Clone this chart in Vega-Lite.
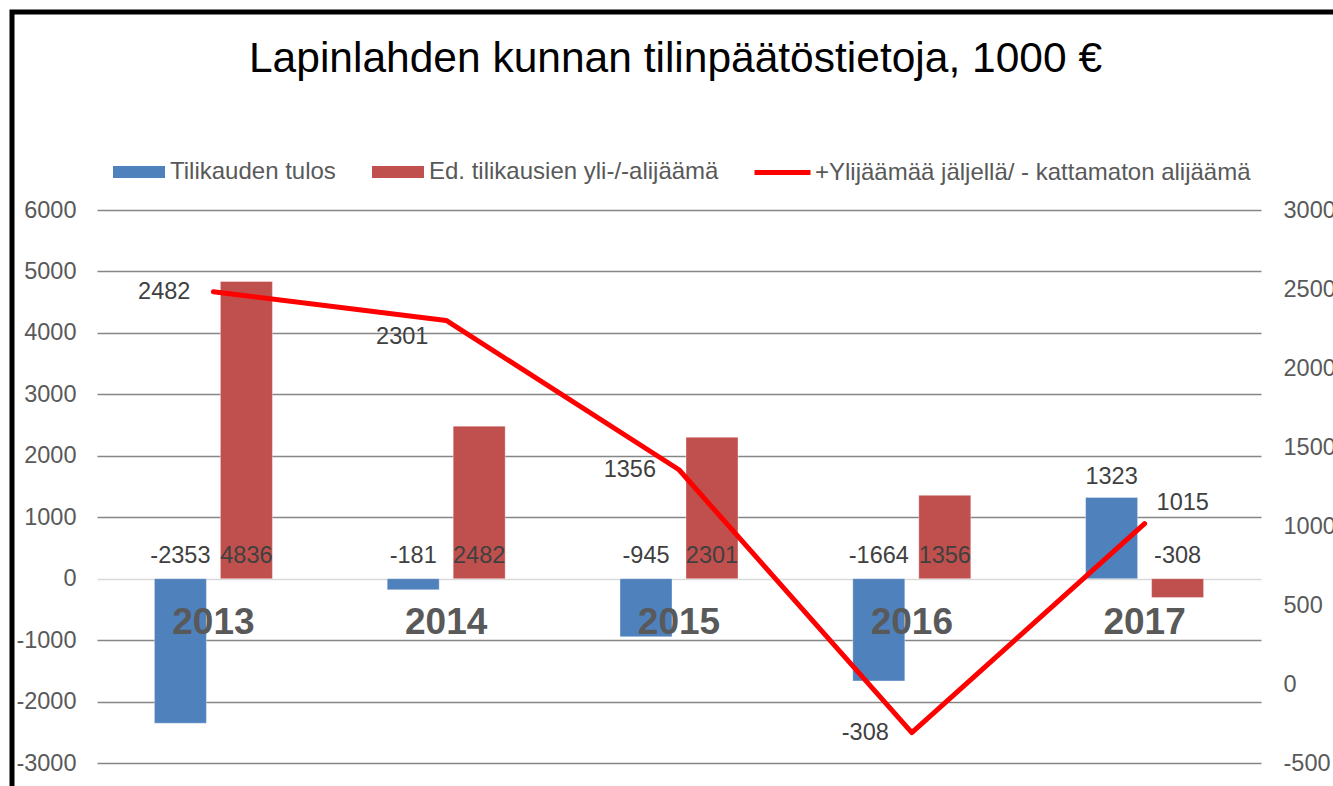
{
  "$schema": "https://vega.github.io/schema/vega-lite/v6.json",
  "width": 1321,
  "height": 774,
  "autosize": {"type": "none"},
  "padding": {"left": 12, "top": 12, "right": 0, "bottom": 0},
  "background": "white",
  "title": {
    "text": "Lapinlahden kunnan tilinpäätöstietoja, 1000 €",
    "font": "Liberation Sans",
    "fontSize": 42.5,
    "fontWeight": "normal",
    "color": "#000000",
    "anchor": "middle",
    "frame": "group",
    "offset": -102,
    "baseline": "alphabetic",
    "dx": 3
  },
  "config": {
    "font": "Liberation Sans",
    "view": {"stroke": "#000000", "strokeWidth": 5, "strokeDash": [1321, 2095, 774, 0], "strokeCap": "square", "fill": "white"}
  },
  "datasets": {
    "bars": [
      {"vuosi": "2013", "sarja": "Tilikauden tulos", "arvo": -2353},
      {"vuosi": "2013", "sarja": "Ed. tilikausien yli-/-alijäämä", "arvo": 4836},
      {"vuosi": "2014", "sarja": "Tilikauden tulos", "arvo": -181},
      {"vuosi": "2014", "sarja": "Ed. tilikausien yli-/-alijäämä", "arvo": 2482},
      {"vuosi": "2015", "sarja": "Tilikauden tulos", "arvo": -945},
      {"vuosi": "2015", "sarja": "Ed. tilikausien yli-/-alijäämä", "arvo": 2301},
      {"vuosi": "2016", "sarja": "Tilikauden tulos", "arvo": -1664},
      {"vuosi": "2016", "sarja": "Ed. tilikausien yli-/-alijäämä", "arvo": 1356},
      {"vuosi": "2017", "sarja": "Tilikauden tulos", "arvo": 1323},
      {"vuosi": "2017", "sarja": "Ed. tilikausien yli-/-alijäämä", "arvo": -308}
    ],
    "line": [
      {"vuosi": "2013", "sarja": "+Ylijäämää jäljellä/ - kattamaton alijäämä", "arvo": 2482},
      {"vuosi": "2014", "sarja": "+Ylijäämää jäljellä/ - kattamaton alijäämä", "arvo": 2301},
      {"vuosi": "2015", "sarja": "+Ylijäämää jäljellä/ - kattamaton alijäämä", "arvo": 1356},
      {"vuosi": "2016", "sarja": "+Ylijäämää jäljellä/ - kattamaton alijäämä", "arvo": -308},
      {"vuosi": "2017", "sarja": "+Ylijäämää jäljellä/ - kattamaton alijäämä", "arvo": 1015}
    ]
  },
  "layer": [
    {
      "data": {"name": "bars"},
      "layer": [
        {
          "mark": {"type": "bar", "stroke": "#FFFFFF", "strokeWidth": 1, "strokeOpacity": 0.35},
          "encoding": {
            "x": {
              "field": "vuosi", "type": "nominal",
              "scale": {"range": [85, 1249], "paddingInner": 0, "paddingOuter": 0},
              "axis": {
                "orient": "bottom", "offset": -164, "domain": false, "ticks": false, "tickSize": 0,
                "labelPadding": 0, "labelBaseline": "middle", "labelAngle": 0,
                "labelFontSize": 37, "labelFontWeight": "bold", "labelColor": "#595959",
                "labelFont": "Liberation Sans", "grid": false, "title": null, "zindex": 1
              }
            },
            "xOffset": {
              "field": "sarja", "type": "nominal",
              "sort": ["Tilikauden tulos", "Ed. tilikausien yli-/-alijäämä"],
              "scale": {"paddingInner": 0.212, "paddingOuter": 0.87}
            },
            "y": {
              "field": "arvo", "type": "quantitative",
              "scale": {"domain": [-3000, 6000], "range": [751, 198], "nice": false, "zero": false},
              "axis": {
                "orient": "left", "offset": -85, "values": [-3000, -2000, -1000, 0, 1000, 2000, 3000, 4000, 5000, 6000],
                "labelExpr": "'' + datum.value",
                "domain": false, "ticks": false, "tickSize": 0, "labelPadding": 21,
                "labelFontSize": 23.5, "labelColor": "#595959", "labelFont": "Liberation Sans",
                "grid": true,
                "gridColor": {"condition": {"test": "datum.value === 0", "value": "#D9D9D9"}, "value": "#868686"},
                "gridWidth": 1.5, "title": null
              }
            },
            "color": {
              "field": "sarja", "type": "nominal",
              "sort": ["Tilikauden tulos", "Ed. tilikausien yli-/-alijäämä"],
              "scale": {"domain": ["Tilikauden tulos", "Ed. tilikausien yli-/-alijäämä"], "range": ["#4F81BD", "#C0504D"]},
              "legend": {
                "orient": "none", "legendX": 101, "legendY": 134, "direction": "horizontal", "title": null,
                "symbolType": "M-1,-0.23H1V0.23H-1Z", "symbolSize": 2704, "symbolStrokeWidth": 0,
                "labelFontSize": 24, "labelColor": "#595959", "labelFont": "Liberation Sans", "labelLimit": 800,
                "labelOffset": 5, "columnPadding": 36, "padding": 0, "symbolOpacity": 1
              }
            }
          }
        },
        {
          "transform": [{"filter": "!(datum.sarja === 'Tilikauden tulos' && datum.arvo > 0)"}],
          "mark": {"type": "text", "fontSize": 23.5, "color": "#404040", "baseline": "middle", "align": "center", "dy": -23},
          "encoding": {
            "x": {"field": "vuosi", "type": "nominal"},
            "xOffset": {"field": "sarja", "type": "nominal", "sort": ["Tilikauden tulos", "Ed. tilikausien yli-/-alijäämä"]},
            "y": {"datum": 0, "type": "quantitative"},
            "text": {"field": "arvo", "type": "nominal"}
          }
        },
        {
          "transform": [{"filter": "datum.sarja === 'Tilikauden tulos' && datum.arvo > 0"}],
          "mark": {"type": "text", "fontSize": 23.5, "color": "#404040", "baseline": "middle", "align": "center", "dy": -20},
          "encoding": {
            "x": {"field": "vuosi", "type": "nominal"},
            "xOffset": {"field": "sarja", "type": "nominal", "sort": ["Tilikauden tulos", "Ed. tilikausien yli-/-alijäämä"]},
            "y": {"field": "arvo", "type": "quantitative"},
            "text": {"field": "arvo", "type": "nominal"}
          }
        }
      ]
    },
    {
      "data": {"name": "line"},
      "layer": [
        {
          "mark": {"type": "line", "strokeWidth": 5, "strokeCap": "round", "strokeJoin": "round"},
          "encoding": {
            "x": {"field": "vuosi", "type": "nominal"},
            "y": {
              "field": "arvo", "type": "quantitative",
              "scale": {"domain": [-500, 3000], "range": [751, 198], "nice": false, "zero": false},
              "axis": {
                "orient": "right", "offset": -72, "values": [-500, 0, 500, 1000, 1500, 2000, 2500, 3000],
                "labelExpr": "'' + datum.value",
                "domain": false, "ticks": false, "tickSize": 0, "labelPadding": 22, "grid": false,
                "labelFontSize": 23.5, "labelColor": "#595959", "labelFont": "Liberation Sans", "title": null
              }
            },
            "stroke": {
              "field": "sarja", "type": "nominal",
              "scale": {"range": ["#FF0000"]},
              "legend": {
                "orient": "none", "legendX": 740, "legendY": 130, "title": null,
                "symbolType": "M-1,0H1", "symbolSize": 3136, "symbolStrokeWidth": 5,
                "labelFontSize": 24, "labelColor": "#595959", "labelFont": "Liberation Sans", "labelLimit": 800,
                "labelOffset": 2, "padding": 0
              }
            }
          }
        },
        {
          "transform": [{"filter": "datum.vuosi === '2013' || datum.vuosi === '2015' || datum.vuosi === '2016'"}],
          "mark": {"type": "text", "fontSize": 23.5, "color": "#404040", "baseline": "middle", "align": "right", "dx": -23},
          "encoding": {
            "x": {"field": "vuosi", "type": "nominal"},
            "y": {"field": "arvo", "type": "quantitative"},
            "text": {"field": "arvo", "type": "nominal"}
          }
        },
        {
          "transform": [{"filter": "datum.vuosi === '2014'"}],
          "mark": {"type": "text", "fontSize": 23.5, "color": "#404040", "baseline": "middle", "align": "center", "dx": -44, "dy": 17},
          "encoding": {
            "x": {"field": "vuosi", "type": "nominal"},
            "y": {"field": "arvo", "type": "quantitative"},
            "text": {"field": "arvo", "type": "nominal"}
          }
        },
        {
          "transform": [{"filter": "datum.vuosi === '2017'"}],
          "mark": {"type": "text", "fontSize": 23.5, "color": "#404040", "baseline": "middle", "align": "left", "dx": 12, "dy": -21},
          "encoding": {
            "x": {"field": "vuosi", "type": "nominal"},
            "y": {"field": "arvo", "type": "quantitative"},
            "text": {"field": "arvo", "type": "nominal"}
          }
        }
      ]
    }
  ],
  "resolve": {"scale": {"y": "independent"}}
}
